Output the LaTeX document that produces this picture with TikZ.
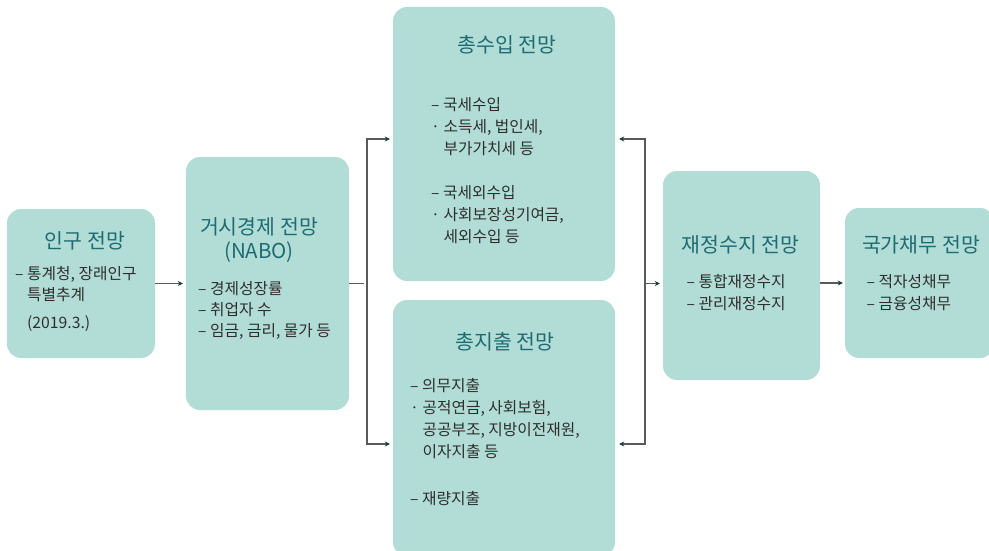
\documentclass[tikz,border=0pt]{standalone}
\usepackage{fontspec}
\setmainfont{Noto Sans CJK KR}
\usetikzlibrary{arrows.meta,positioning}
\definecolor{boxfill}{HTML}{B2DDD6}
\definecolor{titleteal}{HTML}{1F6B74}
\definecolor{bodytext}{HTML}{2E2E2E}
\definecolor{linegray}{HTML}{5A5A5A}
\definecolor{tipdark}{HTML}{1B3B3B}

\begin{document}
\begin{tikzpicture}[
    x=1pt, y=-1pt,
    >={Stealth[length=5pt,width=5pt,color=tipdark]},
    box/.style={rectangle,rounded corners=14pt,fill=boxfill,inner sep=0pt},
    title/.style={text=titleteal,font=\fontsize{20.5}{24}\selectfont,align=center,inner sep=0pt,anchor=base},
    body/.style={text=bodytext,font=\fontsize{15.75}{22}\selectfont,align=left,inner sep=0pt,anchor=base west},
    link/.style={draw=linegray,line width=1.1pt,shorten >=3pt}
]
\path[use as bounding box,clip] (0,0) rectangle (989,551);

% Boxes
\node[box,minimum width=148pt,minimum height=149pt] (box1) at (81,283.5) {};
\node[box,minimum width=163pt,minimum height=253pt] (box2) at (267.5,283.5) {};
\node[box,minimum width=222pt,minimum height=274pt] (box3) at (504,144) {};
\node[box,minimum width=222pt,minimum height=256pt] (box4) at (504,428) {};
\node[box,minimum width=157pt,minimum height=209pt] (box5) at (741.5,275.5) {};
\node[box,minimum width=149pt,minimum height=150pt] (box6) at (919.5,283) {};

% Titles (base = last line)
\node[title] (title1) at (85,248.6) {인구 전망};
\node[title] (title2) at (259,258.5) {거시경제 전망\\(NABO)};
\node[title] (title3) at (507,52.6) {총수입 전망};
\node[title] (title4) at (505,349.6) {총지출 전망};
\node[title] (title5) at (740.5,252.6) {재정수지 전망};
\node[title] (title6) at (921,252.6) {국가채무 전망};

% Contents (base = last line)
\node[body] (body1) at (15,328.5) {– 통계청, 장래인구\\[-1pt]\phantom{– }특별추계\\[6pt]\phantom{– }(2019.3.)};
\node[body] (body2) at (198,336.8) {– 경제성장률\\[-1pt]– 취업자 수\\[-1pt]– 임금, 금리, 물가 등};
\node[body] (body3) at (431,242.5) {– 국세수입\\· 소득세, 법인세,\\\phantom{· }부가가치세 등\\[22pt]– 국세외수입\\· 사회보장성기여금,\\\phantom{· }세외수입 등};
\node[body] (body4) at (410,504.8) {– 의무지출\\· 공적연금, 사회보험,\\\phantom{· }공공부조, 지방이전재원,\\\phantom{· }이자지출 등\\[25pt]– 재량지출};
\node[body] (body5) at (686.5,309.3) {– 통합재정수지\\– 관리재정수지};
\node[body] (body6) at (866.5,309.3) {– 적자성채무\\– 금융성채무};

% Connectors
\coordinate (split) at (367,283.5);
\coordinate (merge) at (645,283.5);
\draw[link,->] (box1) -- (box2);
\draw[link] (box2.east) -- (split);
\draw[link,->] (split) |- ([yshift=5pt]box3.west);
\draw[link,->] (split) |- ([yshift=-16pt]box4.west);
\draw[link,->,shorten >=4pt] (merge) |- ([yshift=5pt]box3.east);
\draw[link,->,shorten >=4pt] (merge) |- ([yshift=-16pt]box4.east);
\draw[link,->] (merge) -- (merge -| box5.west);
\draw[link,->,shorten >=2pt] (box5.east |- box6.west) -- (box6.west);

\end{tikzpicture}
\end{document}
